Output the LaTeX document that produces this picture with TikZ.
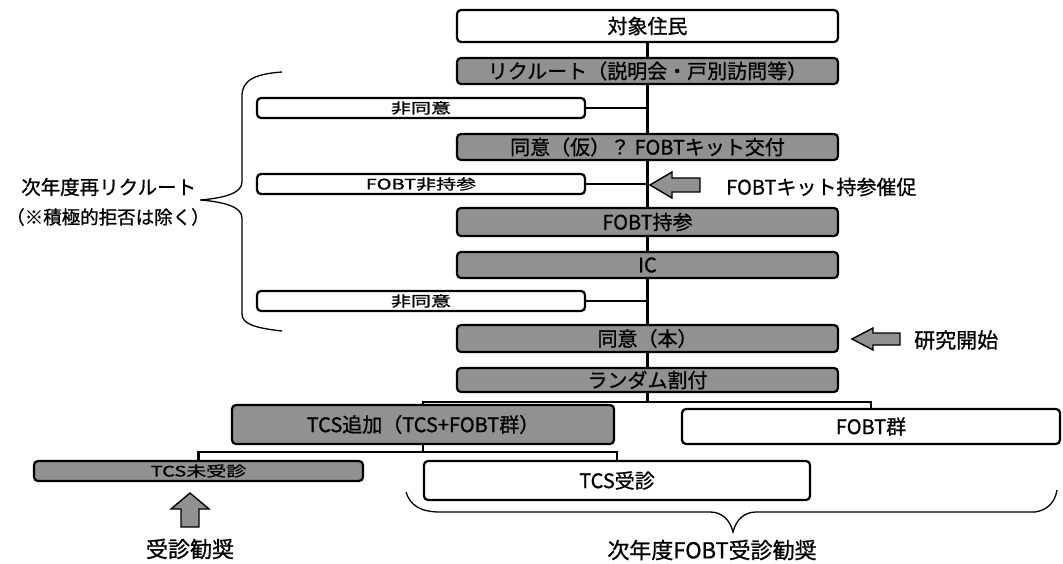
\documentclass[tikz,border=0pt]{standalone}
\usepackage{fontspec}
\setmainfont{Noto Sans CJK JP}[FakeBold=0.9]
\usetikzlibrary{backgrounds}
\definecolor{boxgray}{RGB}{145,145,145}
\tikzset{
  x=1pt, y=-1pt,
  box/.style={draw, line width=2.2pt, rounded corners=4pt, inner sep=0pt, anchor=center},
  gbox/.style={box, fill=boxgray},
  wbox/.style={box, fill=white},
  conn/.style={line width=2.6pt},
  barrow/.style={draw, line width=1.4pt, fill=boxgray, line join=miter},
  brace/.style={line width=1.3pt},
  lbl/.style={inner sep=0pt},
  big/.style={font=\fontsize{20}{22}\selectfont},
  small/.style={font=\fontsize{20}{22}\selectfont}
}
\newcommand{\sq}[1]{\scalebox{1}[0.72]{#1}}
\begin{document}
\begin{tikzpicture}
\useasboundingbox (0,0) rectangle (1063,564);
% main column boxes
\node[wbox, big, minimum width=381, minimum height=32] (top) at (647.5,26) {対象住民};
\node[gbox, big, minimum width=381, minimum height=26] (recruit) at (647.5,71) {リクルート（説明会・戸別訪問等）};
\node[wbox, small, minimum width=328, minimum height=20] (nd1) at (421,108) {\sq{非同意}};
\node[gbox, big, minimum width=381, minimum height=26] (kari) at (647.5,147) {同意（仮）？ FOBTキット交付};
\node[wbox, small, minimum width=328, minimum height=20] (nobring) at (421,184) {\sq{FOBT非持参}};
\node[gbox, big, minimum width=381, minimum height=28] (bring) at (647.5,222) {FOBT持参};
\node[gbox, big, minimum width=381, minimum height=26] (ic) at (647.5,265) {IC};
\node[wbox, small, minimum width=328, minimum height=20] (nd2) at (421,301) {\sq{非同意}};
\node[gbox, big, minimum width=381, minimum height=27] (hon) at (647.5,338.5) {同意（本）};
\node[gbox, big, minimum width=381, minimum height=24] (rand) at (647.5,380) {ランダム割付};
\node[gbox, big, minimum width=382, minimum height=39] (tcs) at (423,424.5) {TCS追加（TCS+FOBT群）};
\node[wbox, big, minimum width=378, minimum height=35] (fobtg) at (871,426.5) {FOBT群};
\node[gbox, small, minimum width=329, minimum height=20] (mi) at (198.5,471) {\sq{TCS未受診}};
\node[wbox, big, minimum width=386, minimum height=39] (ju) at (617,480.5) {TCS受診};
% connectors
\begin{scope}[on background layer]
\draw[conn] (top.south) -- (rand.north);
\draw[conn] (nd1.east) -- (nd1.east -| top.south);
\draw[conn] (nobring.east) -- (nobring.east -| top.south);
\draw[conn] (nd2.east) -- (nd2.east -| top.south);
\draw[conn] (rand.south) -- ++(0,9) coordinate (j1);
\draw[conn] (tcs.north) |- (j1) -| (fobtg.north);
\draw[conn] (tcs.south) -- ++(0,7) coordinate (j2);
\draw[conn] (mi.north) |- (j2) -| (ju.north);
\end{scope}
% block arrows
\draw[barrow] (650,185) -- (672,172) -- (672,178) -- (700,178) -- (700,192) -- (672,192) -- (672,198) -- cycle;
\draw[barrow] (852,339) -- (873,328) -- (873,333) -- (900,333) -- (900,345) -- (873,345) -- (873,350) -- cycle;
\draw[barrow] (190,493) -- (209,509) -- (199,509) -- (199,527) -- (181,527) -- (181,509) -- (171,509) -- cycle;
% labels
\node[lbl, big, anchor=west] (kit) at (726,187) {FOBTキット持参催促};
\node[lbl, font=\fontsize{21}{23}\selectfont, anchor=west] (start) at (914,340) {研究開始};
\node[lbl, font=\fontsize{22}{24}\selectfont] (kansho) at (190,549) {受診勧奨};
\node[lbl, font=\fontsize{22}{24}\selectfont] (nextfobt) at (712,550) {次年度FOBT受診勧奨};
\node[lbl, font=\fontsize{19.5}{22}\selectfont, anchor=west] (rere) at (21,187) {次年度再リクルート};
\node[lbl, font=\fontsize{18.5}{21}\selectfont, anchor=west] (excl) at (6,217) {（※積極的拒否は除く）};
% braces
\draw[brace] (282,72) .. controls (255,74) and (242,80) .. (242,96) -- (242,182) .. controls (242,193) and (225,198) .. (200,200) .. controls (225,202) and (242,207) .. (242,218) -- (242,314) .. controls (242,324) and (255,328) .. (282,331);
\draw[brace] (406,492) .. controls (410,505) and (420,512) .. (440,512) -- (710,512) .. controls (722,512) and (730,520) .. (733,532) .. controls (736,520) and (744,512) .. (756,512) -- (1035,512) .. controls (1048,510) and (1055,502) .. (1057,490);
\end{tikzpicture}
\end{document}
